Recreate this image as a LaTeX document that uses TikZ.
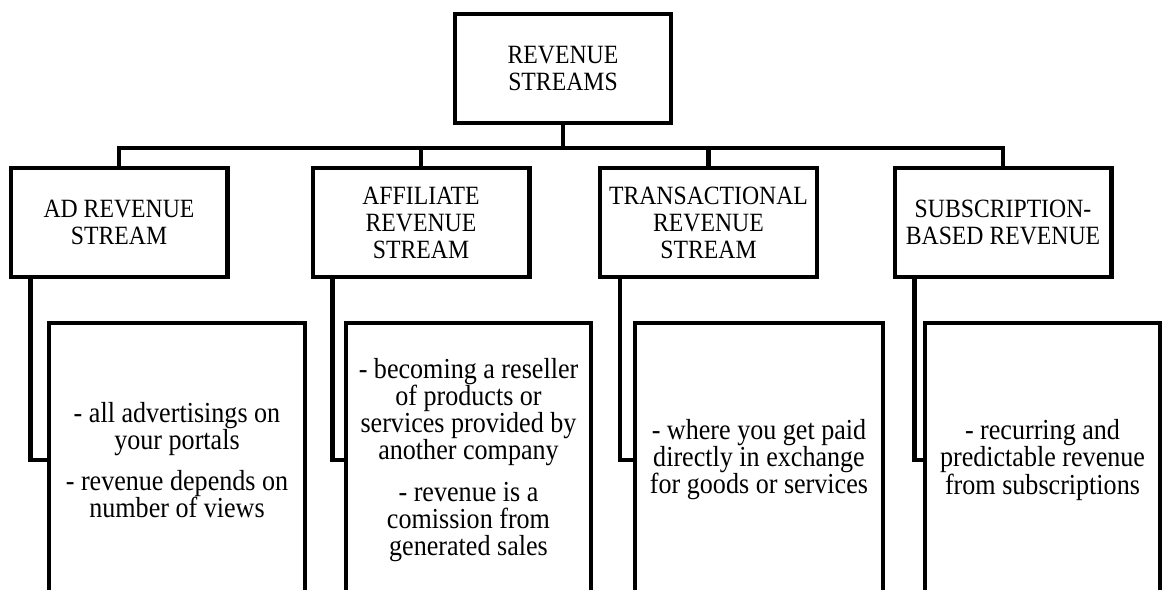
\documentclass[tikz,border=0pt]{standalone}
\usepackage{fontspec}
\setmainfont{Liberation Serif}[FakeStretch=0.9]
\usetikzlibrary{positioning}

\begin{document}
\begin{tikzpicture} [x=0.02cm, y=-0.02cm, line width=2.3pt,
        box/.style = {draw, rectangle, align=center, inner sep=1pt},
        head/.style = {box, minimum width=4.34cm, minimum height=2.18cm, font=\fontsize{15}{15.4}\selectfont},
        info/.style = {box, minimum height=5.48cm, font=\fontsize{16.5}{15.4}\selectfont}]
        \useasboundingbox (0,0) rectangle (1167,590);

        \node (root) [head, minimum width=4.32cm] at (563,68.5) {REVENUE\\STREAMS};
        \node (ad) [head] at (119,222.5) {AD REVENUE\\STREAM};
        \node (aff) [head] at (421,222.5) {AFFILIATE\\REVENUE\\STREAM};
        \node (trans) [head] at (708.5,222.5) {TRANSACTIONAL\\REVENUE\\STREAM};
        \node (sub) [head] at (1003,222.5) {SUBSCRIPTION-\\BASED REVENUE};

        \node (ad-txt) [info, minimum width=5.12cm] at (177,460) {- all advertisings on\\your portals\\[8pt]- revenue depends on\\number of views};
        \node (aff-txt) [info, minimum width=4.9cm] at (468.5,460) {- becoming a reseller\\of products or\\services provided by\\another company\\[8pt]- revenue is a\\comission from\\generated sales};
        \node (trans-txt) [info, minimum width=4.96cm] at (759,460) {- where you get paid\\directly in exchange\\for goods or services};
        \node (sub-txt) [info, minimum width=4.7cm] at (1042.5,460) {- recurring and\\predictable revenue\\from subscriptions};

        \draw (root.south) -- ++(0,23) -| (ad.north);
        \draw (root.south) -- ++(0,23) -| (aff.north);
        \draw (root.south) -- ++(0,23) -| (trans.north);
        \draw (root.south) -- ++(0,23) -| (sub.north);

        \draw ([xshift=0.44cm]ad.south west) |- (ad-txt.west);
        \draw ([xshift=0.44cm]aff.south west) |- (aff-txt.west);
        \draw ([xshift=0.44cm]trans.south west) |- (trans-txt.west);
        \draw ([xshift=0.44cm]sub.south west) |- (sub-txt.west);

    \end{tikzpicture}
\end{document}
